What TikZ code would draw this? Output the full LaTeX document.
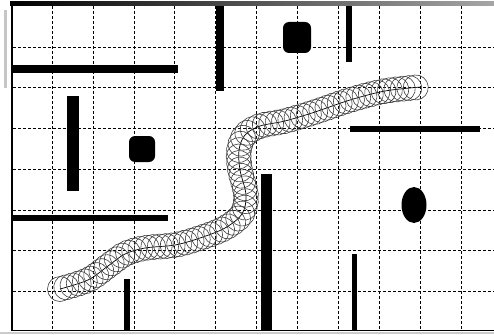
\documentclass[tikz,border=0pt]{standalone}
\usetikzlibrary{decorations.markings}
\tikzset{
  gridline/.style={dash pattern=on 3pt off 2pt,line width=.9pt},
  obstacle/.style={fill=black,draw=none},
  robot/.style={draw=black!75,line width=.6pt},
  trackline/.style={draw=black,line width=.7pt},
  frameline/.style={draw=black,line width=2pt}
}

\begin{document}
\begin{tikzpicture}[x=1pt,y=-1pt]
  \useasboundingbox (0,0) rectangle (494,334);
  \fill[white] (0,0) rectangle (494,334);
  \fill[gray!45] (4,10) rectangle (7,88);
  \fill[gray!40] (0,331.5) rectangle (494,334);
  \shade[left color=black,right color=gray!70] (10,1.5) rectangle (494,5.5);
  \draw[frameline] (12,5) -- (12,331);
  \draw[line width=1.5pt] (11,330.5) -- (494,330.5);

  \foreach \i in {1,...,11}
    \draw[gridline] ({11.3+40.9*\i},6) -- ({11.3+40.9*\i},330);
  \foreach \j in {1,...,7}
    \draw[gridline] (13,{6.5+40.7*\j}) -- (494,{6.5+40.7*\j});

  \fill[obstacle] (11,65) rectangle (178,73);
  \fill[obstacle] (216,6) rectangle (224,91);
  \fill[obstacle] (67,96) rectangle (79,191);
  \fill[obstacle,rounded corners=6pt] (129,136) rectangle (155,162);
  \fill[obstacle,rounded corners=6pt] (283,22) rectangle (311,53);
  \fill[obstacle] (346,6) rectangle (352,62);
  \fill[obstacle] (350,126) rectangle (480,132);
  \fill[obstacle] (11,215) rectangle (168,221);
  \fill[obstacle] (124,279) rectangle (130,330);
  \fill[obstacle] (261,174) rectangle (272,330);
  \fill[obstacle] (352,254) rectangle (357,330);
  \fill[obstacle] (414,205) ellipse [x radius=12.5pt,y radius=18pt];

  \coordinate (start) at (60,289);
  \coordinate (goal) at (421,87);
  \draw[trackline,postaction={decorate},
    decoration={markings,
      mark=between positions 0 and 1 step 6.5pt with {\draw[robot] (0,0) circle (12.5pt);},
      mark=at position 1 with {\draw[robot] (0,0) circle (12.5pt);}}]
    plot[smooth,tension=.55] coordinates {(start) (88,280) (108,266) (125,254) (145,248)
      (175,245) (200,238) (225,228) (242,214) (246,195) (240,170) (239,150)
      (245,135) (260,126) (285,121) (315,112) (350,100) (385,91) (goal)};
\end{tikzpicture}
\end{document}
